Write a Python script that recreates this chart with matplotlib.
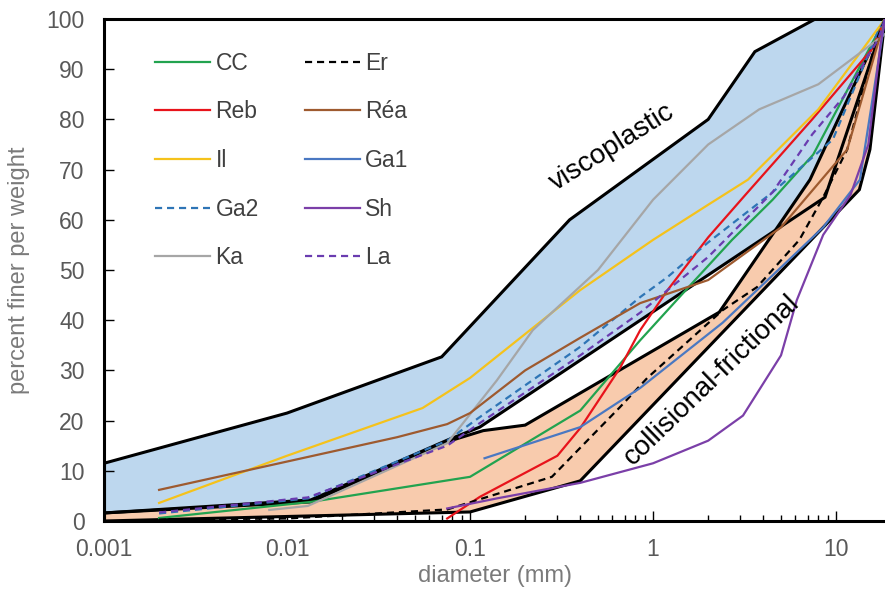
import matplotlib
matplotlib.use('Agg')
import matplotlib.pyplot as plt
from matplotlib.ticker import FixedLocator, FuncFormatter, LogLocator, NullFormatter

plt.rcParams['font.family'] = ['Liberation Sans', 'DejaVu Sans']

# envelope of the viscoplastic field (upper edge, then lower edge back)
visco_up_x = [0.001, 0.01, 0.07, 0.35, 2.0, 3.6, 7.7, 18.5]
visco_up_y = [11.5, 21.5, 32.7, 60.0, 80.0, 93.5, 100.0, 100.0]
visco_lo_x = [0.001, 0.0135, 0.075, 0.113, 8.7, 18.5]
visco_lo_y = [1.6, 4.2, 16.1, 18.7, 64.5, 100.0]

# envelope of the collisional-frictional field
coll_up_x = [0.001, 0.0135, 0.075, 0.118, 0.2, 2.3, 7.2, 18.5]
coll_up_y = [1.6, 3.8, 15.8, 18.0, 19.1, 41.6, 68.0, 100.0]
coll_lo_x = [0.001, 0.1, 0.4, 13.4, 15.3, 18.5]
coll_lo_y = [0.0, 1.8, 8.0, 66.0, 74.0, 100.0]

# grain size curves
cc_x = [0.002, 0.0135, 0.1, 0.4, 0.85, 1.6, 2.7, 4.5, 7.5, 18.5]
cc_y = [0.6, 3.8, 8.8, 22.0, 36.0, 47.0, 56.0, 64.0, 73.0, 100.0]
er_x = [0.002, 0.01, 0.075, 0.28, 0.66, 0.93, 2.4, 3.7, 6.3, 8.5, 11.5, 16.3, 18.5]
er_y = [0.3, 0.5, 2.3, 8.8, 22.7, 28.5, 42.0, 46.6, 56.0, 64.5, 74.0, 95.0, 100.0]
reb_x = [0.075, 0.113, 0.3, 0.4, 0.66, 0.85, 1.2, 2.0, 3.2, 7.4, 15.7, 18.5]
reb_y = [0.5, 4.8, 13.0, 18.5, 30.5, 38.0, 46.0, 56.5, 65.0, 80.0, 94.0, 100.0]
rea_x = [0.002, 0.04, 0.075, 0.1, 0.2, 0.4, 0.85, 2.0, 5.0, 11.5, 18.5]
rea_y = [6.2, 16.7, 19.3, 21.5, 30.0, 36.5, 43.4, 48.0, 58.5, 74.0, 100.0]
il_x = [0.002, 0.01, 0.055, 0.1, 0.4, 1.0, 2.0, 3.3, 8.0, 18.5]
il_y = [3.6, 13.0, 22.5, 28.5, 46.0, 56.0, 63.0, 68.0, 82.0, 100.0]
ga1_x = [0.12, 0.4, 0.85, 2.4, 8.5, 13.5, 18.5]
ga1_y = [12.5, 18.7, 26.5, 39.5, 58.5, 68.0, 100.0]
ga2_x = [0.002, 0.013, 0.075, 0.113, 0.4, 0.85, 1.2, 2.0, 4.5, 9.6, 16.7, 18.5]
ga2_y = [1.5, 4.5, 16.0, 20.7, 34.7, 44.6, 48.6, 55.5, 65.5, 76.0, 97.0, 100.0]
sh_x = [0.075, 0.14, 0.4, 1.0, 2.0, 3.1, 5.0, 6.1, 8.5, 12.0, 15.0, 17.5, 18.5]
sh_y = [2.5, 4.5, 7.6, 11.5, 16.0, 21.0, 33.0, 44.0, 57.0, 65.0, 75.0, 95.0, 100.0]
ka_x = [0.008, 0.013, 0.075, 0.14, 0.22, 0.5, 1.0, 2.0, 3.8, 8.0, 18.5]
ka_y = [2.2, 3.0, 15.5, 28.0, 38.0, 50.0, 64.0, 75.0, 82.0, 87.0, 97.0]
la_x = [0.002, 0.013, 0.075, 0.113, 0.4, 0.85, 1.2, 2.0, 4.5, 7.4, 11.0, 17.0, 18.5]
la_y = [1.7, 4.7, 15.0, 19.5, 33.0, 41.5, 46.0, 52.6, 65.5, 77.0, 84.5, 96.0, 100.0]

x_ticks = [0.001, 0.01, 0.1, 1, 10]
y_ticks = list(range(0, 101, 10))

fig = plt.figure(figsize=(8.85, 5.9), dpi=100)
ax = fig.add_axes([104 / 885, 1 - 521 / 590, 781 / 885, 502 / 590])
ax.set_xscale('log')

# fields
ax.fill(visco_up_x + visco_lo_x[::-1], visco_up_y + visco_lo_y[::-1],
        facecolor='#BDD7EE', edgecolor='none', zorder=1)
ax.fill(coll_up_x + coll_lo_x[::-1], coll_up_y + coll_lo_y[::-1],
        facecolor='#F8CBAD', edgecolor='none', zorder=2)
for xs, ys in [(visco_up_x, visco_up_y), (visco_lo_x, visco_lo_y),
               (coll_up_x, coll_up_y), (coll_lo_x, coll_lo_y)]:
    ax.plot(xs, ys, color='black', lw=2.2, zorder=3, solid_joinstyle='miter')
ax.plot([0.001, 0.001], [0, 11.5], color='black', lw=2.2, zorder=3)

lw = 1.6
dash = (0, (3.2, 2.2))
series = [
    ('CC', cc_x, cc_y, '#22A34F', '-'),
    ('Reb', reb_x, reb_y, '#E8131B', '-'),
    ('Il', il_x, il_y, '#F5C21B', '-'),
    ('Ga2', ga2_x, ga2_y, '#2E75B6', dash),
    ('Ka', ka_x, ka_y, '#A6A6A6', '-'),
    ('Er', er_x, er_y, 'black', dash),
    ('Réa', rea_x, rea_y, '#9E5A2F', '-'),
    ('Ga1', ga1_x, ga1_y, '#4A78C2', '-'),
    ('Sh', sh_x, sh_y, '#7B3FA8', '-'),
    ('La', la_x, la_y, '#6A3CB0', dash),
]
for name, xs, ys, col, ls in series:
    ax.plot(xs, ys, color=col, ls=ls, lw=lw, label=name, zorder=4)

ax.text(0.6, 74.5, 'viscoplastic', rotation=32, fontsize=20,
        ha='center', va='center', color='black', zorder=5)
ax.text(2.1, 28.1, 'collisional-frictional', rotation=44, fontsize=20,
        ha='center', va='center', color='black', zorder=5)

ax.set_xlim(0.001, 18.5)
ax.set_ylim(0, 100)
ax.xaxis.set_major_locator(FixedLocator(x_ticks))
ax.xaxis.set_major_formatter(FuncFormatter(lambda v, p: '%g' % v))
ax.xaxis.set_minor_locator(LogLocator(base=10, subs=range(2, 10), numticks=20))
ax.xaxis.set_minor_formatter(NullFormatter())
ax.set_yticks(y_ticks)

ax.tick_params(axis='both', which='major', direction='in', length=7, width=1,
               labelsize=16.5, labelcolor='#595959', color='black')
ax.tick_params(axis='x', which='major', pad=12)
ax.tick_params(axis='y', which='major', pad=14)
ax.tick_params(axis='x', which='minor', direction='in', length=4, width=1, color='black')

for side in ['left', 'bottom', 'top']:
    ax.spines[side].set_linewidth(2.2)
    ax.spines[side].set_color('black')
ax.spines['right'].set_visible(False)

ax.set_xlabel('diameter (mm)', fontsize=17, color='#7a7a7a', labelpad=3)
ax.set_ylabel('percent finer per weight', fontsize=17, color='#7a7a7a', labelpad=12)

leg = ax.legend(ncol=2, loc='upper left', bbox_to_anchor=(0.065, 0.935),
                frameon=False, fontsize=16.5, handlelength=2.4, handletextpad=0.25,
                labelspacing=1.12, columnspacing=2.0, borderpad=0, borderaxespad=0)
for t in leg.get_texts():
    t.set_color('#404040')

fig.savefig('out.png', dpi=100)
